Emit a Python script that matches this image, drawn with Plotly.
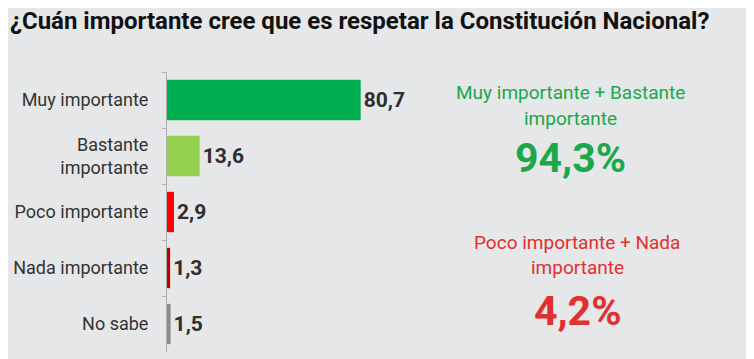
import plotly.graph_objects as go

categories = ["Muy importante", "Bastante<br>importante", "Poco importante", "Nada importante", "No sabe"]
values = [80.7, 13.6, 2.9, 1.3, 1.5]
bar_colors = ["#00b050", "#92d050", "#ff0000", "#c00000", "#8c8c8c"]
title_text = "¿Cuán importante cree que es respetar la Constitución Nacional?"
pos_label = ["Muy importante + Bastante", "importante"]
pos_total = "94,3%"
neg_label = ["Poco importante + Nada", "importante"]
neg_total = "4,2%"

labels = [f"{v:.1f}".replace(".", ",") for v in values]

# the page body adds an 8px margin; work in page coordinates, then subtract it
O = 8
W, H = 754 - O, 359 - O
ML = 167 - O
MT = 72 - O
MB = H - (352 - O)
MR = 10
PW = W - ML - MR
PH = H - MT - MB
FONT = "Roboto, Liberation Sans, sans-serif"

fig = go.Figure()
fig.add_trace(go.Bar(
    y=categories, x=values, orientation="h",
    marker=dict(color=bar_colors, line=dict(width=0)),
    width=0.72,
    text=labels, textposition="outside",
    textfont=dict(family=FONT, size=21, color="#2e2e2e", weight="bold"),
    cliponaxis=False, hoverinfo="skip",
))

def px_x(x):
    return (x - O - ML) / PW

def px_y(y):
    return 1 - (y - O - MT) / PH

ann = []
green = "#1aa84b"
red = "#e03030"
ann.append(dict(text=pos_label[0], x=px_x(570), y=px_y(92), font=dict(family=FONT, size=19, color=green)))
ann.append(dict(text=pos_label[1], x=px_x(570), y=px_y(118), font=dict(family=FONT, size=19, color=green)))
ann.append(dict(text="<b>" + pos_total + "</b>", x=px_x(570), y=px_y(158), font=dict(family=FONT, size=41, color=green)))
ann.append(dict(text=neg_label[0], x=px_x(577), y=px_y(242), font=dict(family=FONT, size=19, color=red)))
ann.append(dict(text=neg_label[1], x=px_x(577), y=px_y(267), font=dict(family=FONT, size=19, color=red)))
ann.append(dict(text="<b>" + neg_total + "</b>", x=px_x(577), y=px_y(311), font=dict(family=FONT, size=41, color=red)))
for a in ann:
    a.update(xref="paper", yref="paper", showarrow=False, xanchor="center", yanchor="middle")

fig.update_layout(
    width=W, height=H,
    margin=dict(l=ML, r=MR, t=MT, b=MB, autoexpand=False),
    paper_bgcolor="#e6e7e8", plot_bgcolor="#e6e7e8",
    showlegend=False,
    title=dict(text="<b>" + title_text + "</b>", x=2 / W, xanchor="left", y=1 - 4 / H, yanchor="top",
               pad=dict(t=0, l=0), font=dict(family=FONT, size=24, color="#111111"), automargin=False),
    xaxis=dict(range=[0, PW / 2.4], visible=False, fixedrange=True, automargin=False),
    yaxis=dict(autorange="reversed", showline=True, linecolor="#b0b0b0", linewidth=1,
               ticks="outside", tickson="boundaries", ticklen=4, tickcolor="#b0b0b0",
               ticklabelstandoff=14, automargin=False,
               tickfont=dict(family=FONT, size=18, color="#333333"), showgrid=False, fixedrange=True),
    annotations=ann,
)

fig.write_html("out.html")
